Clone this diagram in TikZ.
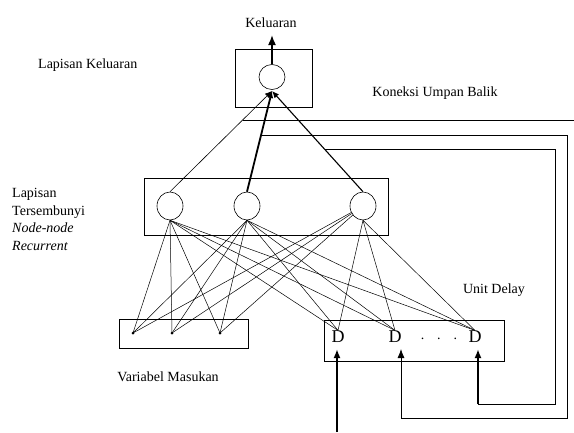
\documentclass[tikz,border=0pt]{standalone}
\usepackage{fontspec}
\setmainfont{Liberation Serif}
\usetikzlibrary{shapes.geometric,arrows.meta,calc}

\begin{document}
\begin{tikzpicture}[x=1pt,y=-1pt,
  lbl/.style={font=\fontsize{14}{17.5}\selectfont, inner sep=0pt},
  neuron/.style={draw, ellipse, inner sep=0pt, minimum width=26pt, minimum height=28pt, line width=0.6pt},
  layerbox/.style={draw, rectangle, inner sep=0pt, line width=0.7pt},
  inpt/.style={circle, fill, inner sep=0pt, minimum size=3pt},
  delay/.style={font=\fontsize{18}{18}\selectfont, inner sep=0.5pt},
  wire/.style={line width=0.5pt},
  fb/.style={line width=0.8pt},
  bigtip/.style={-{Latex[length=9pt,width=7pt]}},
  smalltip/.style={-{Latex[length=7pt,width=6pt]}},
]
\useasboundingbox (0,0) rectangle (574,432);

% layer frames
\node[layerbox, minimum width=77pt, minimum height=58pt] (obox) at (273.5,78) {};
\node[layerbox, minimum width=244pt, minimum height=57pt] (hbox) at (266,206.5) {};
\node[layerbox, minimum width=129pt, minimum height=29pt] (ibox) at (183.5,333.5) {};
\node[layerbox, minimum width=180pt, minimum height=41pt] (dbox) at (414,340.5) {};

% neurons
\node[neuron, minimum height=25pt] (o) at (272,77) {};
\node[neuron] (h1) at (170,206) {};
\node[neuron] (h2) at (247,206) {};
\node[neuron] (h3) at (363,206) {};

% input variables
\node[inpt] (x1) at (133,333) {};
\node[inpt] (x2) at (172,333) {};
\node[inpt] (x3) at (220,333) {};

% unit delays
\node[delay] (d1) at (338,337) {D};
\node[delay] (d2) at (395,337) {D};
\node[delay] (d3) at (475,337) {D};
\node[lbl] (dots) at (439,339) {.\hspace{13pt}.\hspace{13pt}.};

% labels
\node[lbl] (tout) at (271,23) {Keluaran};
\node[lbl, anchor=west] (tlo) at (38,65) {Lapisan Keluaran};
\node[lbl] (tfb) at (435,93) {Koneksi Umpan Balik};
\node[lbl, anchor=west, align=left] (thid) at (12,219.5)
  {Lapisan\\Tersembunyi\\\textit{Node-node}\\\textit{Recurrent}};
\node[lbl] (tud) at (494,290) {Unit Delay};
\node[lbl] (tin) at (168,377) {Variabel Masukan};

% output
\coordinate (otop) at (272,35);
\draw[line width=1.6pt, -{Latex[length=10pt,width=8pt]}] (o.north) -- (otop);

% hidden -> output
\coordinate (oin) at (272,91);
\draw[line width=0.6pt, smalltip] (h1.north) -- (oin);
\draw[line width=1.8pt, smalltip] (h2.north) -- (oin);
\draw[line width=1.1pt, smalltip] (h3.north) -- (oin);

% feedback taps
\path (oin) -- (h1.north) coordinate[pos=0.287] (f1);
\path (oin) -- (h2.north) coordinate[pos=0.436] (f2);
\path (oin) -- (h3.north) coordinate[pos=0.584] (f3);

\coordinate (edge) at (574,0);
\draw[fb] (f1) -- (f1 -| edge);

\coordinate (r2) at (567,418);
\coordinate (a2) at (401,349);
\draw[fb, bigtip] (f2) -| (r2) -| (a2);

\coordinate (r3) at (555,404);
\coordinate (k3) at (478,404);
\coordinate (a3) at (478,349);
\draw[fb] (f3) -| (r3) -- (k3);
\draw[line width=1.8pt, bigtip] (k3) -- (a3);

\coordinate (src) at (337,432);
\coordinate (a1) at (337,349);
\draw[line width=2.6pt, bigtip] (src) -- (a1);

% inputs and delays -> hidden
\foreach \h in {h1,h2}{
  \foreach \x in {x1,x2,x3} \draw[wire] (\h.south) -- (\x.center);
  \foreach \d in {d1,d2,d3} \draw[wire] (\h.south) -- (\d.north);
}
\foreach \x in {x1,x2,x3} \draw[wire] (h3) -- (\x.center);
\foreach \d in {d1,d2,d3} \draw[wire] (h3.south) -- (\d.north);
\end{tikzpicture}
\end{document}
